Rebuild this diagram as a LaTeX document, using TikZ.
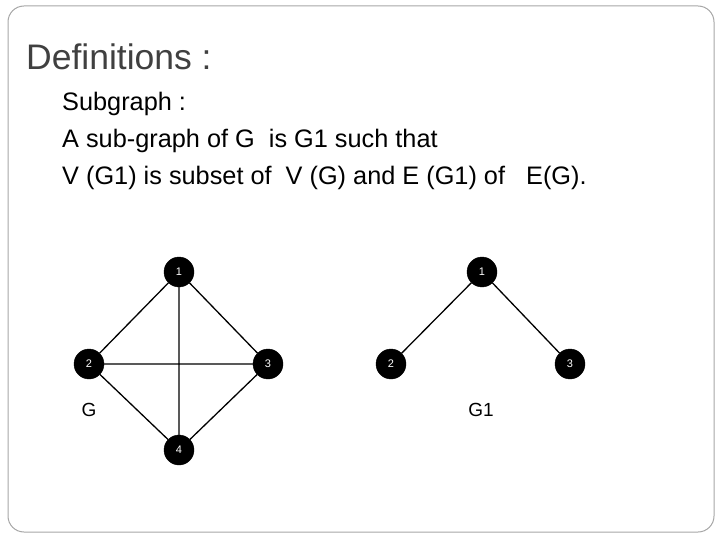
\documentclass[tikz,border=0pt]{standalone}
\usepackage{fontspec}
\setmainfont{Liberation Sans}
\begin{document}
\begin{tikzpicture}[x=1pt,y=-1pt,
  vtx/.style={circle,fill=black,draw=black,minimum size=30pt,inner sep=0pt,text=white,font=\fontsize{11}{12}\selectfont},
  edge/.style={draw=black,line width=1.3pt},
  body/.style={anchor=west,inner sep=0pt,font=\fontsize{25.3}{29}\selectfont}]
\useasboundingbox (0,0) rectangle (720,540);
\draw[gray!70,line width=1pt,rounded corners=16pt] (8,6) rectangle (714,532);
\node[anchor=west,inner sep=0pt,text=black!75,font=\fontsize{35.5}{40}\selectfont] (t) at (26,57) {Definitions :};
\node[body] (l1) at (62,104) {Subgraph :};
\node[body] (l2) at (62,141) {A sub-graph of G\ \ is G1 such that};
\node[body] (l3) at (62,178) {V (G1) is subset of\ \ V (G) and E (G1) of\ \ \ E(G).};
\node[vtx] (a1) at (179,272) {1};
\node[vtx] (a2) at (89,364) {2};
\node[vtx] (a3) at (268,364) {3};
\node[vtx] (a4) at (179,450) {4};
\draw[edge] (a1)--(a2) (a1)--(a3) (a1)--(a4) (a2)--(a3) (a2)--(a4) (a3)--(a4);
\node[vtx] (b1) at (482,272) {1};
\node[vtx] (b2) at (391,364) {2};
\node[vtx] (b3) at (570,364) {3};
\draw[edge] (b1)--(b2) (b1)--(b3);
\node[font=\fontsize{19}{22}\selectfont] (g) at (89,410) {G};
\node[font=\fontsize{19}{22}\selectfont] (g1) at (481,410) {G1};
\end{tikzpicture}
\end{document}
